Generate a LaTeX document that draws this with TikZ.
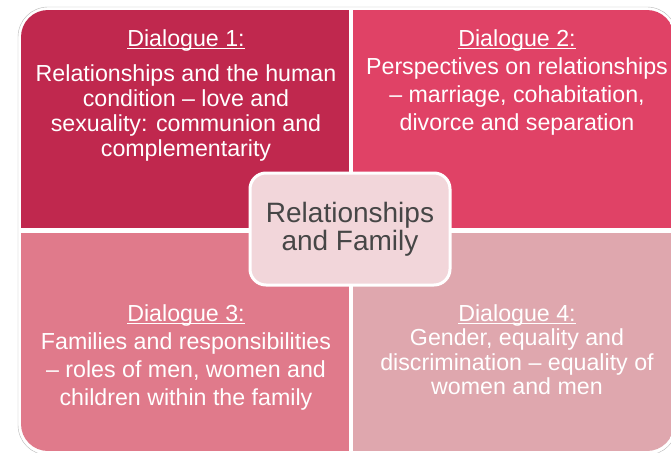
\documentclass[tikz,border=0pt]{standalone}
\usepackage{fontspec}
\setmainfont{Liberation Sans}
\newsavebox\titrebox
\newcommand\souligne[1]{\sbox\titrebox{#1}%
  \rlap{\rule[-3pt]{\wd\titrebox}{0.9pt}}\usebox\titrebox}
\definecolor{dlgA}{HTML}{C0284E}
\definecolor{dlgB}{HTML}{E04266}
\definecolor{dlgC}{HTML}{E07A8B}
\definecolor{dlgD}{HTML}{DFA7AE}
\definecolor{centre}{HTML}{F2D6DA}
\definecolor{texte}{HTML}{464646}
\tikzset{
  bloc/.style={rectangle, inner sep=0pt, minimum height=218},
  dialogue/.style={anchor=north, align=center, inner sep=0pt, text=white},
}
\begin{document}
\begin{tikzpicture}[x=1pt,y=-1pt]
  \def\fs{23.2} % taille de police des dialogues
  \useasboundingbox (0,0) rectangle (671,452);

  % cadre extérieur
  \draw[gray!55, fill=white, rounded corners=30] (18,7) rectangle (677,455);

  % les quatre blocs (coins arrondis par le clip)
  \begin{scope}
    \clip[rounded corners=27] (21,10) rectangle (674,451);
    \node[bloc, fill=dlgA, minimum width=328] (b1) at (185,119) {};
    \node[bloc, fill=dlgB, minimum width=321] (b2) at (513.5,119) {};
    \node[bloc, fill=dlgC, minimum width=328] (b3) at (185,342) {};
    \node[bloc, fill=dlgD, minimum width=321] (b4) at (513.5,342) {};
  \end{scope}

  % textes des dialogues
  \node[dialogue, font=\fontsize{\fs}{25}\selectfont] (t1) at (186,29)
    {\souligne{Dialogue 1:}\\[10pt]
     Relationships and the human\\ condition -- love and\\
     sexuality: communion and\\ complementarity};
  \node[dialogue, font=\fontsize{\fs}{28}\selectfont] (t2) at (517,29)
    {\souligne{Dialogue 2:}\\
     Perspectives on relationships\\ -- marriage, cohabitation,\\
     divorce and separation};
  \node[dialogue, font=\fontsize{\fs}{28}\selectfont] (t3) at (186,304)
    {\souligne{Dialogue 3:}\\
     Families and responsibilities\\ -- roles of men, women and\\
     children within the family};
  \node[dialogue, font=\fontsize{\fs}{24.5}\selectfont] (t4) at (517,304)
    {\souligne{Dialogue 4:}\\
     Gender, equality and\\ discrimination -- equality of\\
     women and men};

  % bloc central
  \node[draw=white, line width=3pt, fill=centre, rounded corners=16,
        minimum width=200, minimum height=112, align=center, text=texte,
        font=\fontsize{28}{28}\selectfont] (c) at (350,229)
    {Relationships\\ and Family};
\end{tikzpicture}
\end{document}
